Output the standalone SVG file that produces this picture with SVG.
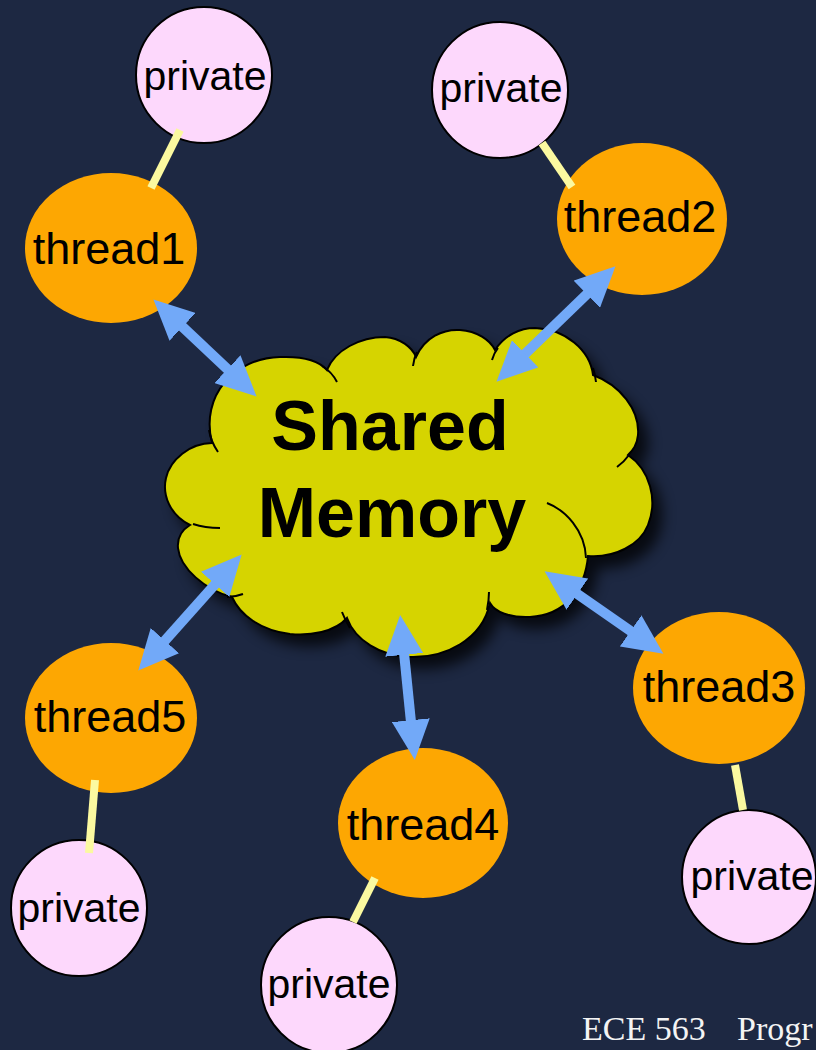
<svg xmlns="http://www.w3.org/2000/svg" width="816" height="1050" viewBox="0 0 816 1050">
<style>
.bg{fill:#1d2842}
.thread{fill:#fda702}
.priv{fill:#fdd8fc;stroke:#000;stroke-width:2}
.lbl{font-family:"Liberation Sans",Arial,sans-serif;fill:#000;text-anchor:middle}
.tl{font-size:45px}
.pl{font-size:41px}
.big{font-size:70px;font-weight:bold}
.link{stroke:#fbf9a0;stroke-width:8;fill:none}
.arr{stroke:#72a9f8;stroke-width:10;fill:none;marker-start:url(#head);marker-end:url(#head)}
.cloud{fill:#d6d400;stroke:#000;stroke-width:2}
.crease{fill:none;stroke:#000;stroke-width:2}
.foot{font-family:"Liberation Serif","Times New Roman",serif;font-size:34px;fill:#f4f4f4}
</style>
<defs>
<marker id="head" viewBox="0 0 40 38" refX="2" refY="19" markerWidth="40" markerHeight="38" markerUnits="userSpaceOnUse" orient="auto-start-reverse">
<path d="M0,0 L40,19 L0,38 Z" fill="#72a9f8"/>
</marker>
<filter id="shadow" x="-20%" y="-20%" width="150%" height="150%">
<feGaussianBlur stdDeviation="7"/>
</filter>
</defs>
<rect class="bg" x="0" y="0" width="816" height="1050"/>

<g id="cloud">
<path id="cloud-shadow" transform="translate(10,12)" filter="url(#shadow)" fill="#000" opacity="0.75" d="M212,443 C200,395 235,358 280,357 C305,356 320,362 327,370 C335,350 360,337 385,337 C400,338 412,347 416,357 C425,337 443,329 460,330 C477,331 490,340 495,350 C505,335 520,328 535,328 C565,329 590,350 593,375 C620,385 640,410 638,435 C637,445 633,450 628,455 C650,470 658,500 648,525 C640,545 615,558 588,556 C585,590 565,615 530,617 C510,618 495,612 490,603 C482,640 445,658 410,657 C380,656 355,640 347,618 C335,632 310,636 290,634 C260,630 240,615 232,597 C205,590 180,568 178,548 C177,538 182,530 190,525 C170,515 162,495 166,478 C170,460 190,443 212,443 Z"/>
<path class="cloud" d="M212,443 C200,395 235,358 280,357 C305,356 320,362 327,370 C335,350 360,337 385,337 C400,338 412,347 416,357 C425,337 443,329 460,330 C477,331 490,340 495,350 C505,335 520,328 535,328 C565,329 590,350 593,375 C620,385 640,410 638,435 C637,445 633,450 628,455 C650,470 658,500 648,525 C640,545 615,558 588,556 C585,590 565,615 530,617 C510,618 495,612 490,603 C482,640 445,658 410,657 C380,656 355,640 347,618 C335,632 310,636 290,634 C260,630 240,615 232,597 C205,590 180,568 178,548 C177,538 182,530 190,525 C170,515 162,495 166,478 C170,460 190,443 212,443 Z"/>
<path class="crease" d="M209,430 Q211,442 218,452"/>
<path class="crease" d="M322,366 Q332,372 337,382"/>
<path class="crease" d="M417,352 Q414,358 413,366"/>
<path class="crease" d="M498,348 Q494,353 492,360"/>
<path class="crease" d="M593,368 Q595,374 596,382"/>
<path class="crease" d="M629,455 Q624,462 617,467"/>
<path class="crease" d="M547,503 C565,510 585,530 586,558"/>
<path class="crease" d="M489,592 Q489,600 487,610"/>
<path class="crease" d="M342,612 Q345,620 350,628"/>
<path class="crease" d="M227,597 Q235,597 243,594"/>
<path class="crease" d="M193,524 Q205,528 220,528"/>
<text class="lbl big" x="390" y="450">Shared</text>
<text class="lbl big" x="392" y="537">Memory</text>
</g>

<g id="thread1"><ellipse class="thread" cx="111" cy="248" rx="86" ry="75"/><text class="lbl tl" x="109" y="264">thread1</text></g>
<g id="thread2"><ellipse class="thread" cx="642" cy="219" rx="85" ry="76"/><text class="lbl tl" x="640" y="232">thread2</text></g>
<g id="thread3"><ellipse class="thread" cx="719" cy="688" rx="86" ry="76"/><text class="lbl tl" x="719" y="702">thread3</text></g>
<g id="thread4"><ellipse class="thread" cx="423" cy="823" rx="85" ry="75"/><text class="lbl tl" x="423" y="840">thread4</text></g>
<g id="thread5"><ellipse class="thread" cx="111" cy="718" rx="86" ry="75"/><text class="lbl tl" x="110" y="732">thread5</text></g>

<g id="private1"><circle class="priv" cx="204" cy="75" r="68"/><text class="lbl pl" x="205" y="90">private</text></g>
<g id="private2"><circle class="priv" cx="500" cy="90" r="68"/><text class="lbl pl" x="501" y="102">private</text></g>
<g id="private3"><circle class="priv" cx="749" cy="877" r="67"/><text class="lbl pl" x="752" y="890">private</text></g>
<g id="private4"><circle class="priv" cx="329" cy="985" r="68"/><text class="lbl pl" x="329" y="998">private</text></g>
<g id="private5"><circle class="priv" cx="79" cy="908" r="68"/><text class="lbl pl" x="79" y="922">private</text></g>

<g id="connectors">
<line class="link" x1="180" y1="130" x2="151" y2="188"/>
<line class="link" x1="542" y1="143" x2="572" y2="187"/>
<line class="link" x1="735" y1="765" x2="743" y2="810"/>
<line class="link" x1="375" y1="878" x2="353" y2="922"/>
<line class="link" x1="95" y1="780" x2="89" y2="853"/>
<line class="arr" x1="181.1" y1="325.5" x2="228.9" y2="370.5"/>
<line class="arr" x1="588.2" y1="292.8" x2="523.8" y2="355.2"/>
<line class="arr" x1="163.6" y1="642.1" x2="216.4" y2="582.9"/>
<line class="arr" x1="404.0" y1="652.8" x2="411.0" y2="722.2"/>
<line class="arr" x1="575.8" y1="592.9" x2="632.2" y2="632.1"/>
</g>

<text class="foot" x="582" y="1040" xml:space="preserve">ECE 563<tspan x="737">Progr</tspan></text>
</svg>
